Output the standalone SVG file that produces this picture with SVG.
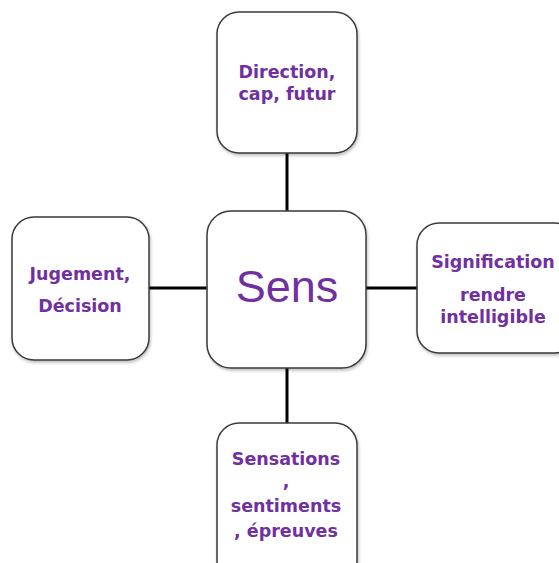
<svg xmlns="http://www.w3.org/2000/svg" width="559" height="563" viewBox="0 0 559 563">
  <defs>
    <filter id="shadow" x="-10%" y="-10%" width="130%" height="130%">
      <feDropShadow dx="1" dy="2" stdDeviation="1.5" flood-color="#000" flood-opacity="0.25"/>
    </filter>
    <style>
      .box { fill: #ffffff; stroke: #3a3a3a; stroke-width: 1.5; filter: url(#shadow); }
      .link { stroke: #000000; stroke-width: 3; fill: none; }
      .lbl { font-family: "DejaVu Sans", "Liberation Sans", sans-serif; font-weight: bold; font-size: 17.5px; fill: #7030A0; text-anchor: middle; }
      .main { font-family: "Liberation Sans", "DejaVu Sans", sans-serif; font-size: 45px; fill: #7030A0; text-anchor: middle; }
    </style>
  </defs>
  <rect width="559" height="563" fill="#ffffff"/>

  <!-- connectors -->
  <g id="connectors">
    <line class="link" x1="287" y1="153" x2="287" y2="211"/>
    <line class="link" x1="287" y1="368" x2="287" y2="423"/>
    <line class="link" x1="149" y1="288" x2="207" y2="288"/>
    <line class="link" x1="366" y1="288" x2="417" y2="288"/>
  </g>

  <!-- centre -->
  <g id="sens">
    <rect class="box" x="207" y="211" width="159" height="157" rx="24"/>
    <text class="main" x="287" y="302">Sens</text>
  </g>

  <!-- top -->
  <g id="direction">
    <rect class="box" x="217" y="12" width="140" height="141" rx="22"/>
    <text class="lbl" x="287" y="78">Direction,</text>
    <text class="lbl" x="287" y="100">cap, futur</text>
  </g>

  <!-- left -->
  <g id="jugement">
    <rect class="box" x="12" y="217" width="137" height="143" rx="22"/>
    <text class="lbl" x="80" y="280">Jugement,</text>
    <text class="lbl" x="80" y="312">Décision</text>
  </g>

  <!-- right -->
  <g id="signification">
    <rect class="box" x="417" y="223" width="160" height="130" rx="22"/>
    <text class="lbl" x="493" y="268">Signification</text>
    <text class="lbl" x="493" y="301">rendre</text>
    <text class="lbl" x="493" y="323">intelligible</text>
  </g>

  <!-- bottom -->
  <g id="sensations">
    <rect class="box" x="217" y="423" width="140" height="160" rx="22"/>
    <text class="lbl" x="286" y="465">Sensations</text>
    <text class="lbl" x="286" y="487">,</text>
    <text class="lbl" x="286" y="512">sentiments</text>
    <text class="lbl" x="286" y="537">, épreuves</text>
  </g>
</svg>
